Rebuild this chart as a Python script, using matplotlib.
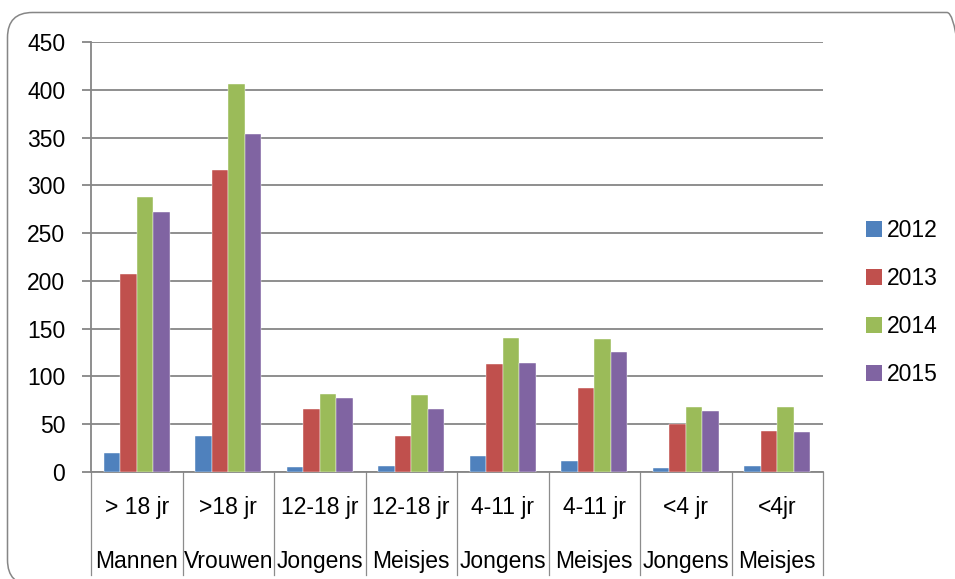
import matplotlib
matplotlib.use("Agg")
import matplotlib.pyplot as plt
import numpy as np
from matplotlib.patches import FancyBboxPatch
from matplotlib.lines import Line2D

# ---- data ----
groups_level1 = ["> 18 jr", ">18 jr", "12-18 jr", "12-18 jr", "4-11 jr", "4-11 jr", "<4 jr", "<4jr"]
groups_level2 = ["Mannen", "Vrouwen", "Jongens", "Meisjes", "Jongens", "Meisjes", "Jongens", "Meisjes"]
series_names = ["2012", "2013", "2014", "2015"]
values_2012 = [20, 38, 5, 6, 17, 12, 4, 6]
values_2013 = [207, 316, 66, 38, 113, 88, 50, 43]
values_2014 = [288, 406, 82, 81, 140, 139, 68, 68]
values_2015 = [272, 354, 77, 66, 114, 126, 64, 42]
yticks = [0, 50, 100, 150, 200, 250, 300, 350, 400, 450]

series_values = [values_2012, values_2013, values_2014, values_2015]
colors = ["#4F81BD", "#C0504D", "#9BBB59", "#8064A2"]

plt.rcParams['font.family'] = ['Liberation Sans', 'DejaVu Sans']

W, H = 955, 579
fig = plt.figure(figsize=(W / 100, H / 100), dpi=100)
left, right, top, bottom = 91, 823, 42, 472
ax = fig.add_axes([left / W, 1 - bottom / H, (right - left) / W, (bottom - top) / H])

grid_c = "#868686"
n = len(groups_level1)
x = np.arange(n) + 0.5
bw = 0.1815
for k, (name, vals, c) in enumerate(zip(series_names, series_values, colors)):
    ax.bar(x + (k - 1.5) * bw, vals, width=bw, color=c, label=name,
           edgecolor="white", linewidth=0.3, zorder=3)

ax.set_xlim(0, n)
ax.set_ylim(0, 450)
ax.set_yticks(yticks)
ax.set_yticklabels([str(v) for v in yticks], fontsize=16.5)
ax.yaxis.grid(True, color=grid_c, linewidth=1.3, zorder=0)
ax.tick_params(axis='y', length=6.5, width=1.3, color=grid_c, pad=12)
ax.set_xticks([])
for s in ["top", "right"]:
    ax.spines[s].set_visible(False)
for s in ["left", "bottom"]:
    ax.spines[s].set_color(grid_c)
    ax.spines[s].set_linewidth(1.3)

# category separators and two-level labels
trans = ax.get_xaxis_transform()
sep_bottom = -(575 - bottom) / (bottom - top)
for b in range(n + 1):
    ax.add_line(Line2D([b, b], [0, sep_bottom], transform=trans, color="#8c8c8c",
                       linewidth=0.9, clip_on=False))
lab_fam = ['Liberation Sans Narrow', 'Liberation Sans', 'DejaVu Sans']
y1 = -(514 - bottom) / (bottom - top)
y2 = -(568 - bottom) / (bottom - top)
for i in range(n):
    ax.text(x[i], y1, groups_level1[i], transform=trans, ha='center', va='baseline',
            fontsize=16.5, family=lab_fam)
    ax.text(x[i], y2, groups_level2[i], transform=trans, ha='center', va='baseline',
            fontsize=16.5, family=lab_fam)

# legend
leg = ax.legend(loc='upper left', bbox_to_anchor=(866 / W, 1 - 219 / H),
                bbox_transform=fig.transFigure, frameon=False, fontsize=16.5,
                handlelength=0.68, handleheight=0.68, handletextpad=0.25,
                labelspacing=1.09, borderpad=0, borderaxespad=0)
for h in leg.legend_handles:
    h.set_linewidth(0)

# outer rounded border
border = FancyBboxPatch((7.5 / 100, (H - 585) / 100), (972 - 7.5) / 100, (585 - 12.5) / 100,
                        boxstyle="round,pad=0,rounding_size=0.25",
                        transform=fig.dpi_scale_trans, facecolor="none",
                        edgecolor=grid_c, linewidth=1.1, clip_on=False)
fig.add_artist(border)

fig.savefig("out.png", dpi=100)
